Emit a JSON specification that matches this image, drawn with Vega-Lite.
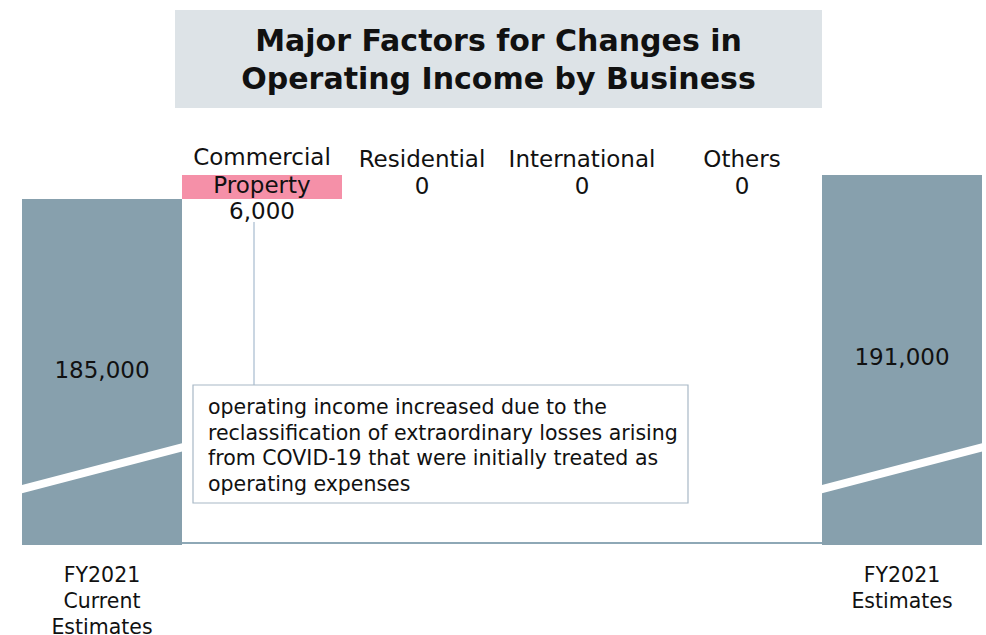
{
  "$schema": "https://vega.github.io/schema/vega-lite/v6.json",
  "width": 960,
  "height": 635,
  "autosize": {"type": "none"},
  "padding": {"left": 22, "top": 0, "right": 4, "bottom": 0},
  "background": "white",
  "config": {
    "view": {"stroke": null},
    "font": "DejaVu Sans",
    "text": {"font": "DejaVu Sans", "color": "#111111"}
  },
  "datasets": {
    "totals": [
      {"name": "FY2021 Current Estimates", "value": 185000},
      {"name": "FY2021 Estimates", "value": 191000}
    ],
    "factors": [
      {"name": "Commercial Property", "change": 6000, "start": 185000, "end": 191000},
      {"name": "Residential", "change": 0, "start": 191000, "end": 191000},
      {"name": "International", "change": 0, "start": 191000, "end": 191000},
      {"name": "Others", "change": 0, "start": 191000, "end": 191000}
    ]
  },
  "layer": [
    {
      "data": {"name": "totals"},
      "mark": {"type": "bar", "color": "#87a0ad"},
      "encoding": {
        "x": {
          "field": "name", "type": "nominal", "axis": null,
          "scale": {
            "type": "band",
            "domain": ["FY2021 Current Estimates", "Commercial Property", "Residential", "International", "Others", "FY2021 Estimates"],
            "paddingInner": 0, "paddingOuter": 0
          }
        },
        "y": {
          "field": "value", "type": "quantitative", "axis": null,
          "scale": {"domain": [76000, 234750], "zero": false, "nice": false}
        },
        "y2": {"datum": 98500}
      }
    },
    {
      "data": {"values": [{}]},
      "mark": {"type": "rect", "color": "#dde3e7", "xOffset": -87, "x2Offset": -80},
      "encoding": {
        "x": {"datum": "Commercial Property", "type": "nominal"},
        "x2": {"datum": "FY2021 Estimates"},
        "y": {"datum": 232250, "type": "quantitative"},
        "y2": {"datum": 207750}
      }
    },
    {
      "data": {"values": [{}]},
      "mark": {"type": "text", "text": ["Major Factors for Changes in", "Operating Income by Business"], "fontWeight": "bold", "fontSize": 30, "lineHeight": 38, "align": "center", "baseline": "middle", "dx": 76.5},
      "encoding": {
        "x": {"datum": "Residential", "type": "nominal"},
        "y": {"datum": 224250, "type": "quantitative"}
      }
    },
    {
      "data": {"name": "totals"},
      "mark": {"type": "rule", "color": "white", "strokeWidth": 8, "strokeCap": "square", "xOffset": -80, "x2Offset": 80},
      "encoding": {
        "x": {"field": "name", "type": "nominal"},
        "x2": {"field": "name"},
        "y": {"datum": 112500, "type": "quantitative"},
        "y2": {"datum": 122875}
      }
    },
    {
      "data": {"values": [{}]},
      "mark": {"type": "rule", "color": "#8ea8b6", "strokeWidth": 2, "xOffset": 80, "x2Offset": -80},
      "encoding": {
        "x": {"datum": "FY2021 Current Estimates", "type": "nominal"},
        "x2": {"datum": "FY2021 Estimates"},
        "y": {"datum": 99000, "type": "quantitative"}
      }
    },
    {
      "data": {"name": "factors"},
      "transform": [{"filter": "datum.change != 0"}],
      "mark": {"type": "bar", "color": "#f590a8"},
      "encoding": {
        "x": {"field": "name", "type": "nominal"},
        "y": {"field": "start", "type": "quantitative"},
        "y2": {"field": "end"}
      }
    },
    {
      "data": {"values": [{}]},
      "mark": {"type": "rule", "color": "#b8c8d8", "strokeWidth": 1.5, "xOffset": -8},
      "encoding": {
        "x": {"datum": "Commercial Property", "type": "nominal"},
        "y": {"datum": 179250, "type": "quantitative"},
        "y2": {"datum": 138500}
      }
    },
    {
      "data": {"values": [{}]},
      "mark": {"type": "rect", "fill": "white", "stroke": "#a8b8c6", "strokeWidth": 1.2, "xOffset": -69, "x2Offset": -54},
      "encoding": {
        "x": {"datum": "Commercial Property", "type": "nominal"},
        "x2": {"datum": "Others"},
        "y": {"datum": 138500, "type": "quantitative"},
        "y2": {"datum": 109000}
      }
    },
    {
      "data": {"values": [{}]},
      "mark": {"type": "text", "text": ["operating income increased due to the", "reclassification of extraordinary losses arising", "from COVID-19 that were initially treated as", "operating expenses"], "fontSize": 20.5, "lineHeight": 25.7, "align": "left", "baseline": "middle", "dx": -54},
      "encoding": {
        "x": {"datum": "Commercial Property", "type": "nominal"},
        "y": {"datum": 132750, "type": "quantitative"}
      }
    },
    {
      "data": {"name": "factors"},
      "transform": [{"filter": "datum.change != 0"}],
      "mark": {"type": "text", "fontSize": 23, "lineHeight": 28, "lineBreak": " ", "align": "center", "baseline": "middle"},
      "encoding": {
        "x": {"field": "name", "type": "nominal"},
        "y": {"datum": 195250, "type": "quantitative"},
        "text": {"field": "name"}
      }
    },
    {
      "data": {"name": "factors"},
      "transform": [{"filter": "datum.change == 0"}],
      "mark": {"type": "text", "fontSize": 23, "align": "center", "baseline": "middle"},
      "encoding": {
        "x": {"field": "name", "type": "nominal"},
        "y": {"datum": 194750, "type": "quantitative"},
        "text": {"field": "name"}
      }
    },
    {
      "data": {"name": "factors"},
      "transform": [{"filter": "datum.change != 0"}],
      "mark": {"type": "text", "fontSize": 23, "align": "center", "baseline": "middle"},
      "encoding": {
        "x": {"field": "name", "type": "nominal"},
        "y": {"datum": 181750, "type": "quantitative"},
        "text": {"field": "change", "type": "quantitative", "format": ",d"}
      }
    },
    {
      "data": {"name": "factors"},
      "transform": [{"filter": "datum.change == 0"}],
      "mark": {"type": "text", "fontSize": 23, "align": "center", "baseline": "middle"},
      "encoding": {
        "x": {"field": "name", "type": "nominal"},
        "y": {"datum": 188000, "type": "quantitative"},
        "text": {"field": "change", "type": "quantitative", "format": ",d"}
      }
    },
    {
      "data": {"name": "totals"},
      "transform": [{"filter": "datum.name == 'FY2021 Current Estimates'"}],
      "mark": {"type": "text", "fontSize": 23, "align": "center", "baseline": "middle"},
      "encoding": {
        "x": {"field": "name", "type": "nominal"},
        "y": {"datum": 142000, "type": "quantitative"},
        "text": {"field": "value", "type": "quantitative", "format": ",d"}
      }
    },
    {
      "data": {"name": "totals"},
      "transform": [{"filter": "datum.name == 'FY2021 Estimates'"}],
      "mark": {"type": "text", "fontSize": 23, "align": "center", "baseline": "middle"},
      "encoding": {
        "x": {"field": "name", "type": "nominal"},
        "y": {"datum": 145250, "type": "quantitative"},
        "text": {"field": "value", "type": "quantitative", "format": ",d"}
      }
    },
    {
      "data": {"name": "totals"},
      "mark": {"type": "text", "fontSize": 20.5, "lineHeight": 26, "lineBreak": " ", "align": "center", "baseline": "top"},
      "encoding": {
        "x": {"field": "name", "type": "nominal"},
        "y": {"datum": 93250, "type": "quantitative"},
        "text": {"field": "name"}
      }
    }
  ]
}
